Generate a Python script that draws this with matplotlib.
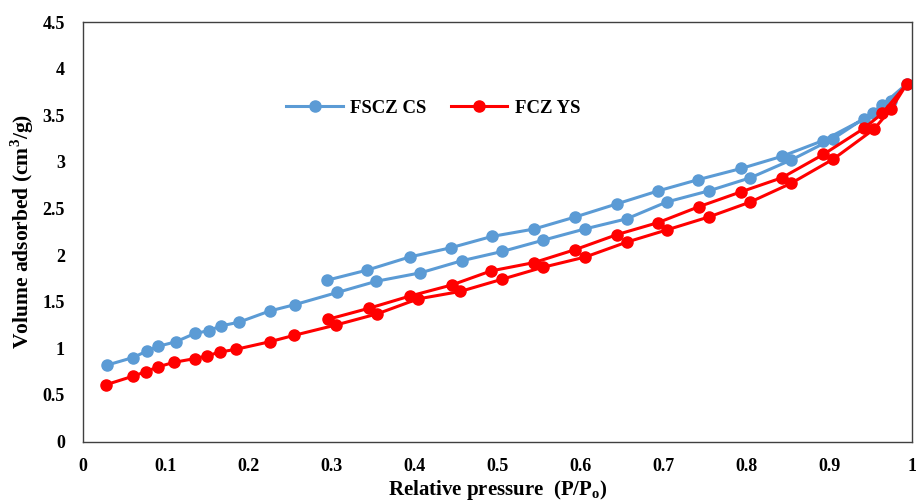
import numpy as np
import matplotlib.pyplot as plt

plt.rcParams['font.family'] = ['Liberation Serif', 'DejaVu Serif']
plt.rcParams['font.weight'] = 'bold'
plt.rcParams['mathtext.fontset'] = 'custom'
plt.rcParams['mathtext.rm'] = 'Liberation Serif:bold'
plt.rcParams['mathtext.bf'] = 'Liberation Serif:bold'

# FSCZ CS: adsorption branch followed by desorption branch
p_fscz = [0.029, 0.060, 0.077, 0.090, 0.112, 0.135, 0.152, 0.166, 0.188, 0.225,
          0.256, 0.307, 0.354, 0.407, 0.457, 0.506, 0.555, 0.605, 0.656, 0.704,
          0.755, 0.805, 0.854, 0.905, 0.953, 0.975, 0.994,
          0.964, 0.942, 0.893, 0.843, 0.794, 0.742, 0.694, 0.644, 0.594, 0.544,
          0.493, 0.444, 0.394, 0.343, 0.294]
v_fscz = [0.82, 0.90, 0.97, 1.02, 1.07, 1.16, 1.19, 1.24, 1.28, 1.40,
          1.47, 1.60, 1.72, 1.81, 1.94, 2.04, 2.16, 2.28, 2.39, 2.57,
          2.69, 2.83, 3.02, 3.25, 3.53, 3.65, 3.84,
          3.61, 3.46, 3.23, 3.06, 2.93, 2.81, 2.69, 2.55, 2.41, 2.28,
          2.20, 2.08, 1.98, 1.84, 1.73]

# FCZ YS: adsorption branch followed by desorption branch
p_fcz = [0.028, 0.060, 0.076, 0.090, 0.110, 0.135, 0.150, 0.165, 0.185, 0.225,
         0.255, 0.305, 0.355, 0.404, 0.455, 0.505, 0.555, 0.606, 0.656, 0.704,
         0.755, 0.805, 0.854, 0.905, 0.954, 0.975, 0.994,
         0.964, 0.942, 0.893, 0.843, 0.794, 0.743, 0.694, 0.644, 0.594, 0.544,
         0.492, 0.445, 0.394, 0.345, 0.295]
v_fcz = [0.61, 0.70, 0.75, 0.80, 0.85, 0.89, 0.92, 0.96, 0.99, 1.07,
         1.14, 1.25, 1.37, 1.53, 1.61, 1.74, 1.87, 1.98, 2.14, 2.27,
         2.41, 2.57, 2.77, 3.03, 3.35, 3.57, 3.84,
         3.52, 3.36, 3.08, 2.83, 2.68, 2.52, 2.35, 2.22, 2.06, 1.92,
         1.83, 1.68, 1.56, 1.43, 1.31]

x_ticks = ['0', '0.1', '0.2', '0.3', '0.4', '0.5', '0.6', '0.7', '0.8', '0.9', '1']
y_ticks = ['0', '0.5', '1', '1.5', '2', '2.5', '3', '3.5', '4', '4.5']

fig = plt.figure(figsize=(9.16, 5.04), dpi=100)
ax = fig.add_axes([0.0906, 0.124, 0.905, 0.832])

ax.plot(p_fscz, v_fscz, '-o', color='#5B9BD5', lw=2.2, ms=8, label='FSCZ CS')
ax.plot(p_fcz, v_fcz, '-o', color='#FF0000', lw=2.2, ms=8, label='FCZ YS')

ax.set_xlim(0, 1)
ax.set_ylim(0, 4.5)
ax.set_xticks(np.linspace(0, 1, len(x_ticks)))
ax.set_xticklabels(x_ticks, fontsize=13)
ax.set_yticks(np.linspace(0, 4.5, len(y_ticks)))
ax.set_yticklabels(y_ticks, fontsize=13)
ax.tick_params(axis='x', length=0, pad=12)
ax.tick_params(axis='y', length=0, pad=13)
for s in ax.spines.values():
    s.set_color('#404040')
    s.set_linewidth(1.0)

ax.set_xlabel('Relative pressure  (P/P$_\\mathrm{o}$)', fontsize=15, fontweight='bold', labelpad=2)
ax.set_ylabel('Volume adsorbed (cm$^\\mathrm{3}$/g)', fontsize=15.5, fontweight='bold', labelpad=5)

ax.legend(loc='upper left', bbox_to_anchor=(0.225, 0.855), ncol=2, frameon=False,
          handlelength=3, columnspacing=1.3, handletextpad=0.4,
          prop={'weight': 'bold', 'size': 13.5})

fig.savefig('out.png', dpi=100)
